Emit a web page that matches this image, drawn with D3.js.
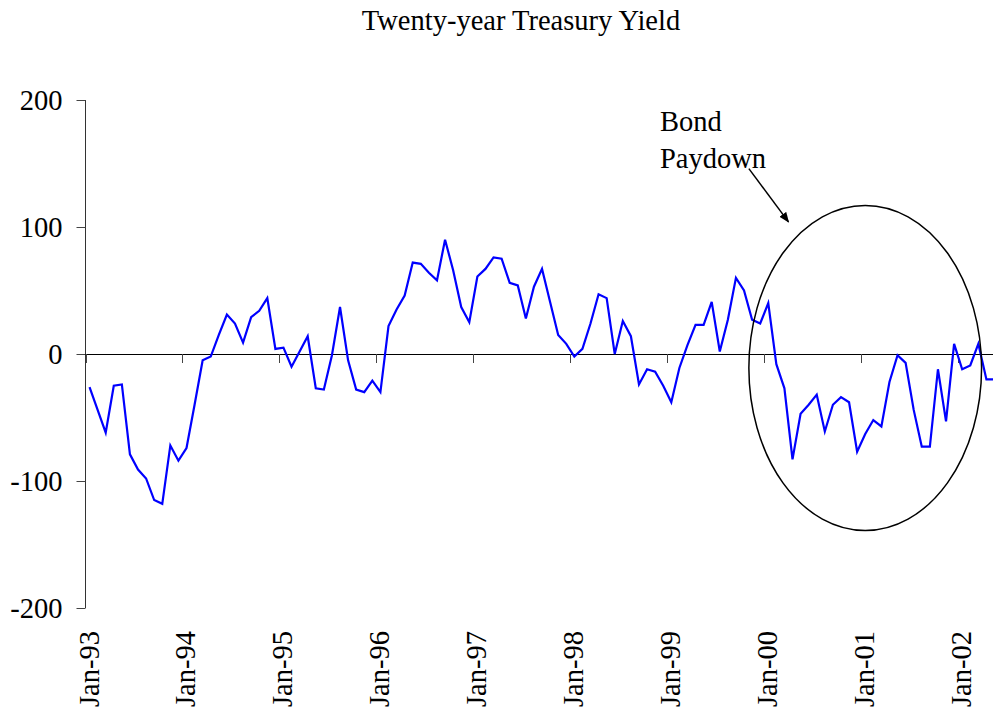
<html>
  <head>
    <script src="https://cdnjs.cloudflare.com/ajax/libs/d3/7.8.5/d3.min.js"></script>
    <style>
      body { margin: 0; background: #fff; }
      text { font-family: "Liberation Serif", "Times New Roman", serif; fill: #000; }
    </style>
  </head>
  <body>
    <svg id="chart" width="993" height="715"></svg>
    <script>
      // monthly values, Jan-93 .. May-02
      var yieldValues = [
        -26, -44, -62, -25, -24, -79, -91, -98, -115, -118, -72, -84,
        -74, -40, -5, -2, 15, 31, 24, 9, 29, 34, 44, 4,
        5, -10, 2, 14, -27, -28, -1, 37, -5, -28, -30, -21,
        -30, 22, 35, 46, 72, 71, 64, 58, 90, 66, 37, 25,
        61, 67, 76, 75, 56, 54, 28, 53, 67, 41, 15, 8,
        -2, 4, 24, 47, 44, 0, 26, 14, -24, -12, -14, -25,
        -38, -11, 7, 23, 23, 41, 2, 27, 60, 50, 27, 24,
        40, -8, -27, -83, -47, -40, -32, -61, -40, -34, -38, -77,
        -63, -52, -57, -22, -1, -7, -44, -73, -73, -12, -53, 8,
        -12, -9, 8, -20, -20
      ];
      var tickLabels = ["Jan-93", "Jan-94", "Jan-95", "Jan-96", "Jan-97",
                        "Jan-98", "Jan-99", "Jan-00", "Jan-01", "Jan-02"];
      var yTicks = [-200, -100, 0, 100, 200];

      // annotation, in data units (month index, value)
      var circleNote = { month: 96, value: -11, rMonths: 14.4, rValue: 128 };
      var arrowNote = { from: [81.6, 146], to: [86.5, 104] };
      var noteLines = ["Bond", "Paydown"];

      var svg = d3.select("#chart");

      var x = d3.scaleLinear()
        .domain([-0.5, yieldValues.length - 0.5])
        .range([85.5, 85.5 + 8.08 * yieldValues.length]);

      var y = d3.scaleLinear()
        .domain([-200, 200])
        .range([608, 100]);

      svg.append("defs").append("marker")
        .attr("id", "arrow")
        .attr("viewBox", "0 0 10 10")
        .attr("refX", 9).attr("refY", 5)
        .attr("markerWidth", 7).attr("markerHeight", 7)
        .attr("orient", "auto")
        .append("path")
        .attr("d", "M0,1 L10,5 L0,9 Z")
        .attr("fill", "#000");

      // title
      svg.append("text")
        .attr("x", 521).attr("y", 30)
        .attr("text-anchor", "middle")
        .style("font-size", "28.5px")
        .text("Twenty-year Treasury Yield");

      // y axis
      var yAxis = d3.axisLeft(y)
        .tickValues(yTicks)
        .tickSize(9)
        .tickPadding(14)
        .tickFormat(function(d) { return String(d); });

      svg.append("g")
        .attr("transform", "translate(85.5,0)")
        .call(yAxis)
        .call(function(g) {
          g.select(".domain").attr("stroke", "#333").attr("d", "M0,100V608");
          g.selectAll(".tick line").attr("stroke", "#444");
          g.selectAll(".tick text")
            .attr("font-family", "Liberation Serif, Times New Roman, serif")
            .attr("font-size", "28.5px")
            .attr("dy", "0.33em")
            .attr("fill", "#000");
        });

      // zero line
      svg.append("line")
        .attr("x1", x(-0.5)).attr("x2", x(yieldValues.length - 0.5))
        .attr("y1", y(0) + 0.5).attr("y2", y(0) + 0.5)
        .attr("stroke", "#000")
        .attr("stroke-width", 1);

      // x ticks and labels
      var xt = svg.append("g").selectAll("g")
        .data(tickLabels)
        .enter()
        .append("g")
        .attr("transform", function(d, i) { return "translate(" + (Math.round(x(i * 12 - 0.5)) + 0.5) + ",0)"; });

      xt.append("line")
        .attr("y1", y(0)).attr("y2", y(0) + 9)
        .attr("stroke", "#444");

      xt.append("text")
        .attr("transform", "translate(12,631) rotate(-90)")
        .attr("text-anchor", "end")
        .style("font-size", "28.5px")
        .text(function(d) { return d; });

      // series
      var line = d3.line()
        .x(function(d, i) { return x(i); })
        .y(function(d) { return y(d); });

      svg.append("path")
        .datum(yieldValues)
        .attr("d", line)
        .attr("fill", "none")
        .attr("stroke", "#0000ff")
        .attr("stroke-width", 2.2)
        .attr("stroke-linejoin", "miter");

      // annotation
      var cx = x(circleNote.month), cy = y(circleNote.value);
      svg.append("ellipse")
        .attr("cx", cx).attr("cy", cy)
        .attr("rx", x(circleNote.month + circleNote.rMonths) - cx)
        .attr("ry", y(circleNote.value - circleNote.rValue) - cy)
        .attr("fill", "none")
        .attr("stroke", "#000")
        .attr("stroke-width", 1.5);

      svg.append("line")
        .attr("x1", x(arrowNote.from[0])).attr("y1", y(arrowNote.from[1]))
        .attr("x2", x(arrowNote.to[0])).attr("y2", y(arrowNote.to[1]))
        .attr("stroke", "#000")
        .attr("stroke-width", 1.5)
        .attr("marker-end", "url(#arrow)");

      svg.append("g").selectAll("text")
        .data(noteLines)
        .enter()
        .append("text")
        .attr("x", 660)
        .attr("y", function(d, i) { return 131 + i * 36.5; })
        .style("font-size", "28.5px")
        .text(function(d) { return d; });
    </script>
  </body>
</html>
